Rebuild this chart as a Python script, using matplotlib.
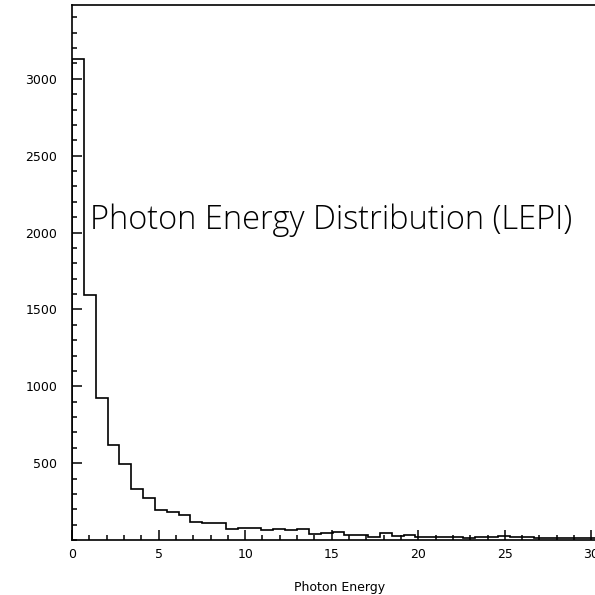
import numpy as np
import matplotlib
matplotlib.use("Agg")
import matplotlib.pyplot as plt
from matplotlib.ticker import MultipleLocator, FixedLocator

# histogram contents (bin width ~0.684)
bin_width = 0.684
counts = [3130, 1595, 924, 618, 494, 330, 273, 195, 182, 165,
          119, 111, 111, 72, 80, 75, 63, 74, 63, 74,
          39, 43, 50, 33, 33, 22, 43, 26, 33, 22,
          17, 17, 22, 15, 20, 17, 25, 22, 18, 12,
          15, 10, 12, 16, 10, 14]
edges = np.arange(len(counts) + 1) * bin_width

title_text = "Photon Energy Distribution (LEPI)"
xlabel_text = "Photon Energy"
y_major = [500, 1000, 1500, 2000, 2500, 3000]

fig = plt.figure(figsize=(5.95, 5.95), dpi=100)
# axes runs past the right edge of the picture, like the original crop
ax = fig.add_axes([72/595, 55/595, 606/595, 535/595])

ax.stairs(counts, edges, color="black", linewidth=1.2, baseline=0)

ax.set_xlim(0, 35)
ax.set_ylim(0, 3480)

ax.xaxis.set_major_locator(MultipleLocator(5))
ax.xaxis.set_minor_locator(MultipleLocator(1))
ax.yaxis.set_major_locator(FixedLocator(y_major))
ax.yaxis.set_minor_locator(MultipleLocator(100))

ax.tick_params(which="both", direction="in", width=1.1, color="black",
               labelsize=9)
ax.tick_params(which="major", length=7)
ax.tick_params(which="minor", length=3.6)
ax.tick_params(axis="y", pad=10.5)
ax.tick_params(axis="x", pad=5.5)
ax.tick_params(top=False, right=False)

for s in ax.spines.values():
    s.set_linewidth(1.2)

ax.set_xlabel(xlabel_text, fontsize=9)
ax.xaxis.set_label_coords((340 - 72) / 606, -0.077)

ax.text(1.04, 2025, title_text, fontsize=23.5, family=["Open Sans", "DejaVu Sans"],
        fontweight="light", color="black", va="baseline", ha="left")

fig.savefig("out.png", dpi=100)
